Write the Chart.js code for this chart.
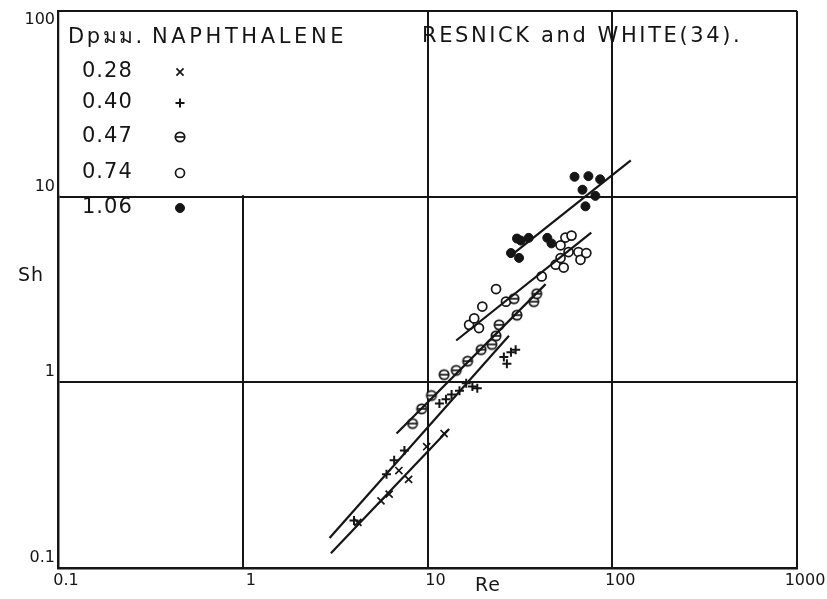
<!DOCTYPE html>
<html>
<head>
<meta charset="utf-8">
<script src="https://cdn.jsdelivr.net/npm/chart.js@4.4.0/dist/chart.umd.min.js"></script>
<style>
  html, body { margin: 0; padding: 0; background: #fff; }
  #wrap { width: 827px; height: 599px; }
</style>
</head>
<body>
<div id="wrap"><canvas id="chart" width="827" height="599"></canvas></div>
<script>
// Axis ticks (decades only)
const reTicks = [0.1, 1, 10, 100, 1000];
const shTicks = [0.1, 1, 10, 100];
const diameters = ['0.28', '0.40', '0.47', '0.74', '1.06'];

// Dp 0.28 mm
const re028 = [4.2, 5.6, 6.2, 7.0, 7.9, 9.9, 12.3];
const sh028 = [0.176, 0.23, 0.25, 0.335, 0.30, 0.45, 0.53];
// Dp 0.40 mm
const re040 = [4.0, 6.0, 6.6, 7.5, 11.6, 12.6, 13.5, 14.9, 16.2, 17.5, 18.6, 25.9, 26.9, 28.3, 30.0];
const sh040 = [0.18, 0.32, 0.38, 0.43, 0.77, 0.81, 0.86, 0.90, 0.99, 0.95, 0.93, 1.37, 1.26, 1.45, 1.5];
// Dp 0.47 mm
const re047 = [8.3, 9.3, 10.5, 12.3, 14.3, 16.5, 19.5, 22.3, 23.5, 24.4, 29.4, 30.5, 37.6, 39.0];
const sh047 = [0.60, 0.72, 0.85, 1.10, 1.16, 1.30, 1.50, 1.60, 1.78, 2.04, 2.82, 2.30, 2.72, 3.00];
// Dp 0.74 mm
const re074 = [16.8, 17.9, 19.0, 19.8, 23.5, 26.6, 41.5, 49.4, 52.5, 52.5, 54.6, 55.8, 58.0, 60.2, 65.6, 67.3, 72.4];
const sh074 = [2.04, 2.21, 1.96, 2.56, 3.18, 2.72, 3.72, 4.30, 4.67, 5.47, 4.15, 6.02, 5.03, 6.17, 5.03, 4.57, 4.97];
// Dp 1.06 mm
const re106 = [28.3, 31.3, 30.5, 32.0, 35.3, 44.5, 46.9, 62.5, 74.3, 86.0, 69.0, 81.0, 71.6];
const sh106 = [4.97, 4.68, 5.95, 5.80, 6.00, 6.00, 5.60, 12.8, 12.9, 12.4, 10.9, 10.1, 8.87];

// Fitted lines (end points)
const fitRe028 = [3.0, 13.1];  const fitSh028 = [0.12, 0.56];
const fitRe040 = [2.95, 27.6]; const fitSh040 = [0.145, 1.78];
const fitRe047 = [6.8, 43.6];  const fitSh047 = [0.53, 3.38];
const fitRe074 = [14.3, 77];   const fitSh074 = [1.68, 6.4];
const fitRe106 = [27.6, 126];  const fitSh106 = [4.73, 15.7];

const pts = (xs, ys) => xs.map((x, i) => ({ x: x, y: ys[i] }));
const INK = '#151515';
const FONT = '"DejaVu Sans", "Noto Sans", sans-serif';

// circle with a bar through it
function barCircle() {
    const c = document.createElement('canvas');
    c.width = 14; c.height = 14;
    const g = c.getContext('2d');
    g.fillStyle = '#fff';
    g.strokeStyle = INK;
    g.lineWidth = 1.7;
    g.beginPath(); g.arc(7, 7, 4.7, 0, Math.PI * 2); g.fill(); g.stroke();
    g.beginPath(); g.moveTo(2, 7); g.lineTo(12, 7); g.stroke();
    return c;
}

const marks = [
    { pointStyle: 'crossRot', radius: 5, borderWidth: 1.7, fill: INK },
    { pointStyle: 'cross', radius: 4.5, borderWidth: 2, fill: INK },
    { pointStyle: barCircle(), radius: 5, borderWidth: 1.7, fill: '#fff' },
    { pointStyle: 'circle', radius: 4.5, borderWidth: 1.7, fill: '#fff' },
    { pointStyle: 'circle', radius: 4.5, borderWidth: 1, fill: INK }
];

function pointSet(xs, ys, m) {
    return {
        data: pts(xs, ys),
        showLine: false,
        pointStyle: m.pointStyle,
        pointRadius: m.radius,
        pointBorderWidth: m.borderWidth,
        pointBorderColor: INK,
        pointBackgroundColor: m.fill
    };
}

function fitSet(xs, ys) {
    return {
        data: pts(xs, ys),
        showLine: true,
        borderColor: INK,
        borderWidth: 2.2,
        pointRadius: 0,
        fill: false
    };
}

function drawSpaced(ctx, text, x, y, size, spacing) {
    ctx.font = size + 'px ' + FONT;
    ctx.letterSpacing = spacing + 'px';
    ctx.fillText(text, x, y);
    ctx.letterSpacing = '0px';
}

const paperPlugin = {
    id: 'paper',
    beforeDatasetsDraw(chart) {
        // the top-left cell holds the key, no grid line through it
        const xs = chart.scales.x, ys = chart.scales.y;
        const ctx = chart.ctx;
        ctx.save();
        ctx.fillStyle = '#fff';
        const l = xs.getPixelForValue(0.1) + 1.5, r = xs.getPixelForValue(10) - 1.5;
        const t = ys.getPixelForValue(100), b = ys.getPixelForValue(10) - 1.5;
        ctx.fillRect(l, t - 6, r - l, b - t + 6);
        // put the top frame back
        ctx.strokeStyle = INK;
        ctx.lineWidth = 2;
        ctx.beginPath();
        ctx.moveTo(l - 2, t);
        ctx.lineTo(r + 2, t);
        ctx.stroke();
        ctx.restore();
    },
    afterDraw(chart) {
        const ctx = chart.ctx;
        const ys = chart.scales.y;
        ctx.save();
        ctx.fillStyle = INK;
        ctx.strokeStyle = INK;

        // y tick labels, written just above each line
        ctx.textAlign = 'right';
        ctx.textBaseline = 'middle';
        ctx.font = '16px ' + FONT;
        shTicks.forEach(v => {
            let y = ys.getPixelForValue(v) - 10;
            if (y < 20) y = 20;
            ctx.fillText(String(v), 55, y);
        });

        // axis titles
        ctx.textAlign = 'center';
        drawSpaced(ctx, 'Sh', 31, 276, 19, 1);
        drawSpaced(ctx, 'Re', 488, 586, 19, 1);

        // header texts
        ctx.textAlign = 'left';
        drawSpaced(ctx, 'Dpมม.', 68, 38, 21, 2.5);
        drawSpaced(ctx, 'NAPHTHALENE', 152, 38, 21, 3.6);
        drawSpaced(ctx, 'RESNICK and WHITE(34).', 422, 37, 21, 2.6);

        // key
        const rowY = [72, 103, 137, 173, 208];
        diameters.forEach((d, i) => {
            ctx.fillStyle = INK;
            drawSpaced(ctx, d, 82, rowY[i], 21, 1);
            const m = marks[i];
            ctx.fillStyle = m.fill;
            ctx.lineWidth = m.borderWidth;
            Chart.helpers.drawPoint(ctx, {
                pointStyle: m.pointStyle,
                radius: m.radius,
                rotation: 0,
                borderWidth: m.borderWidth
            }, 180, rowY[i]);
        });
        ctx.restore();
    }
};

new Chart(document.getElementById('chart'), {
    type: 'scatter',
    data: {
        datasets: [
            fitSet(fitRe028, fitSh028),
            fitSet(fitRe040, fitSh040),
            fitSet(fitRe047, fitSh047),
            fitSet(fitRe074, fitSh074),
            fitSet(fitRe106, fitSh106),
            pointSet(re028, sh028, marks[0]),
            pointSet(re040, sh040, marks[1]),
            pointSet(re047, sh047, marks[2]),
            pointSet(re074, sh074, marks[3]),
            pointSet(re106, sh106, marks[4])
        ]
    },
    options: {
        responsive: false,
        animation: false,
        layout: { padding: { top: 11, right: 30, left: 0, bottom: 0 } },
        plugins: {
            legend: { display: false },
            tooltip: { enabled: false }
        },
        scales: {
            x: {
                type: 'logarithmic',
                min: 0.1,
                max: 1000,
                afterBuildTicks: s => { s.ticks = reTicks.map(v => ({ value: v })); },
                afterFit: s => { s.height = 31; },
                grid: { color: INK, lineWidth: 2, drawTicks: false },
                border: { color: INK, width: 2.5 },
                ticks: {
                    color: INK,
                    font: { family: FONT, size: 16 },
                    padding: 3,
                    labelOffset: 8,
                    maxRotation: 0,
                    autoSkip: false,
                    callback: v => String(v)
                }
            },
            y: {
                type: 'logarithmic',
                min: 0.1,
                max: 100,
                afterBuildTicks: s => { s.ticks = shTicks.map(v => ({ value: v })); },
                afterFit: s => { s.width = 58; },
                grid: { color: INK, lineWidth: 2, drawTicks: false },
                border: { color: INK, width: 2.5 },
                ticks: { display: false }
            }
        }
    },
    plugins: [paperPlugin]
});
</script>
</body>
</html>
